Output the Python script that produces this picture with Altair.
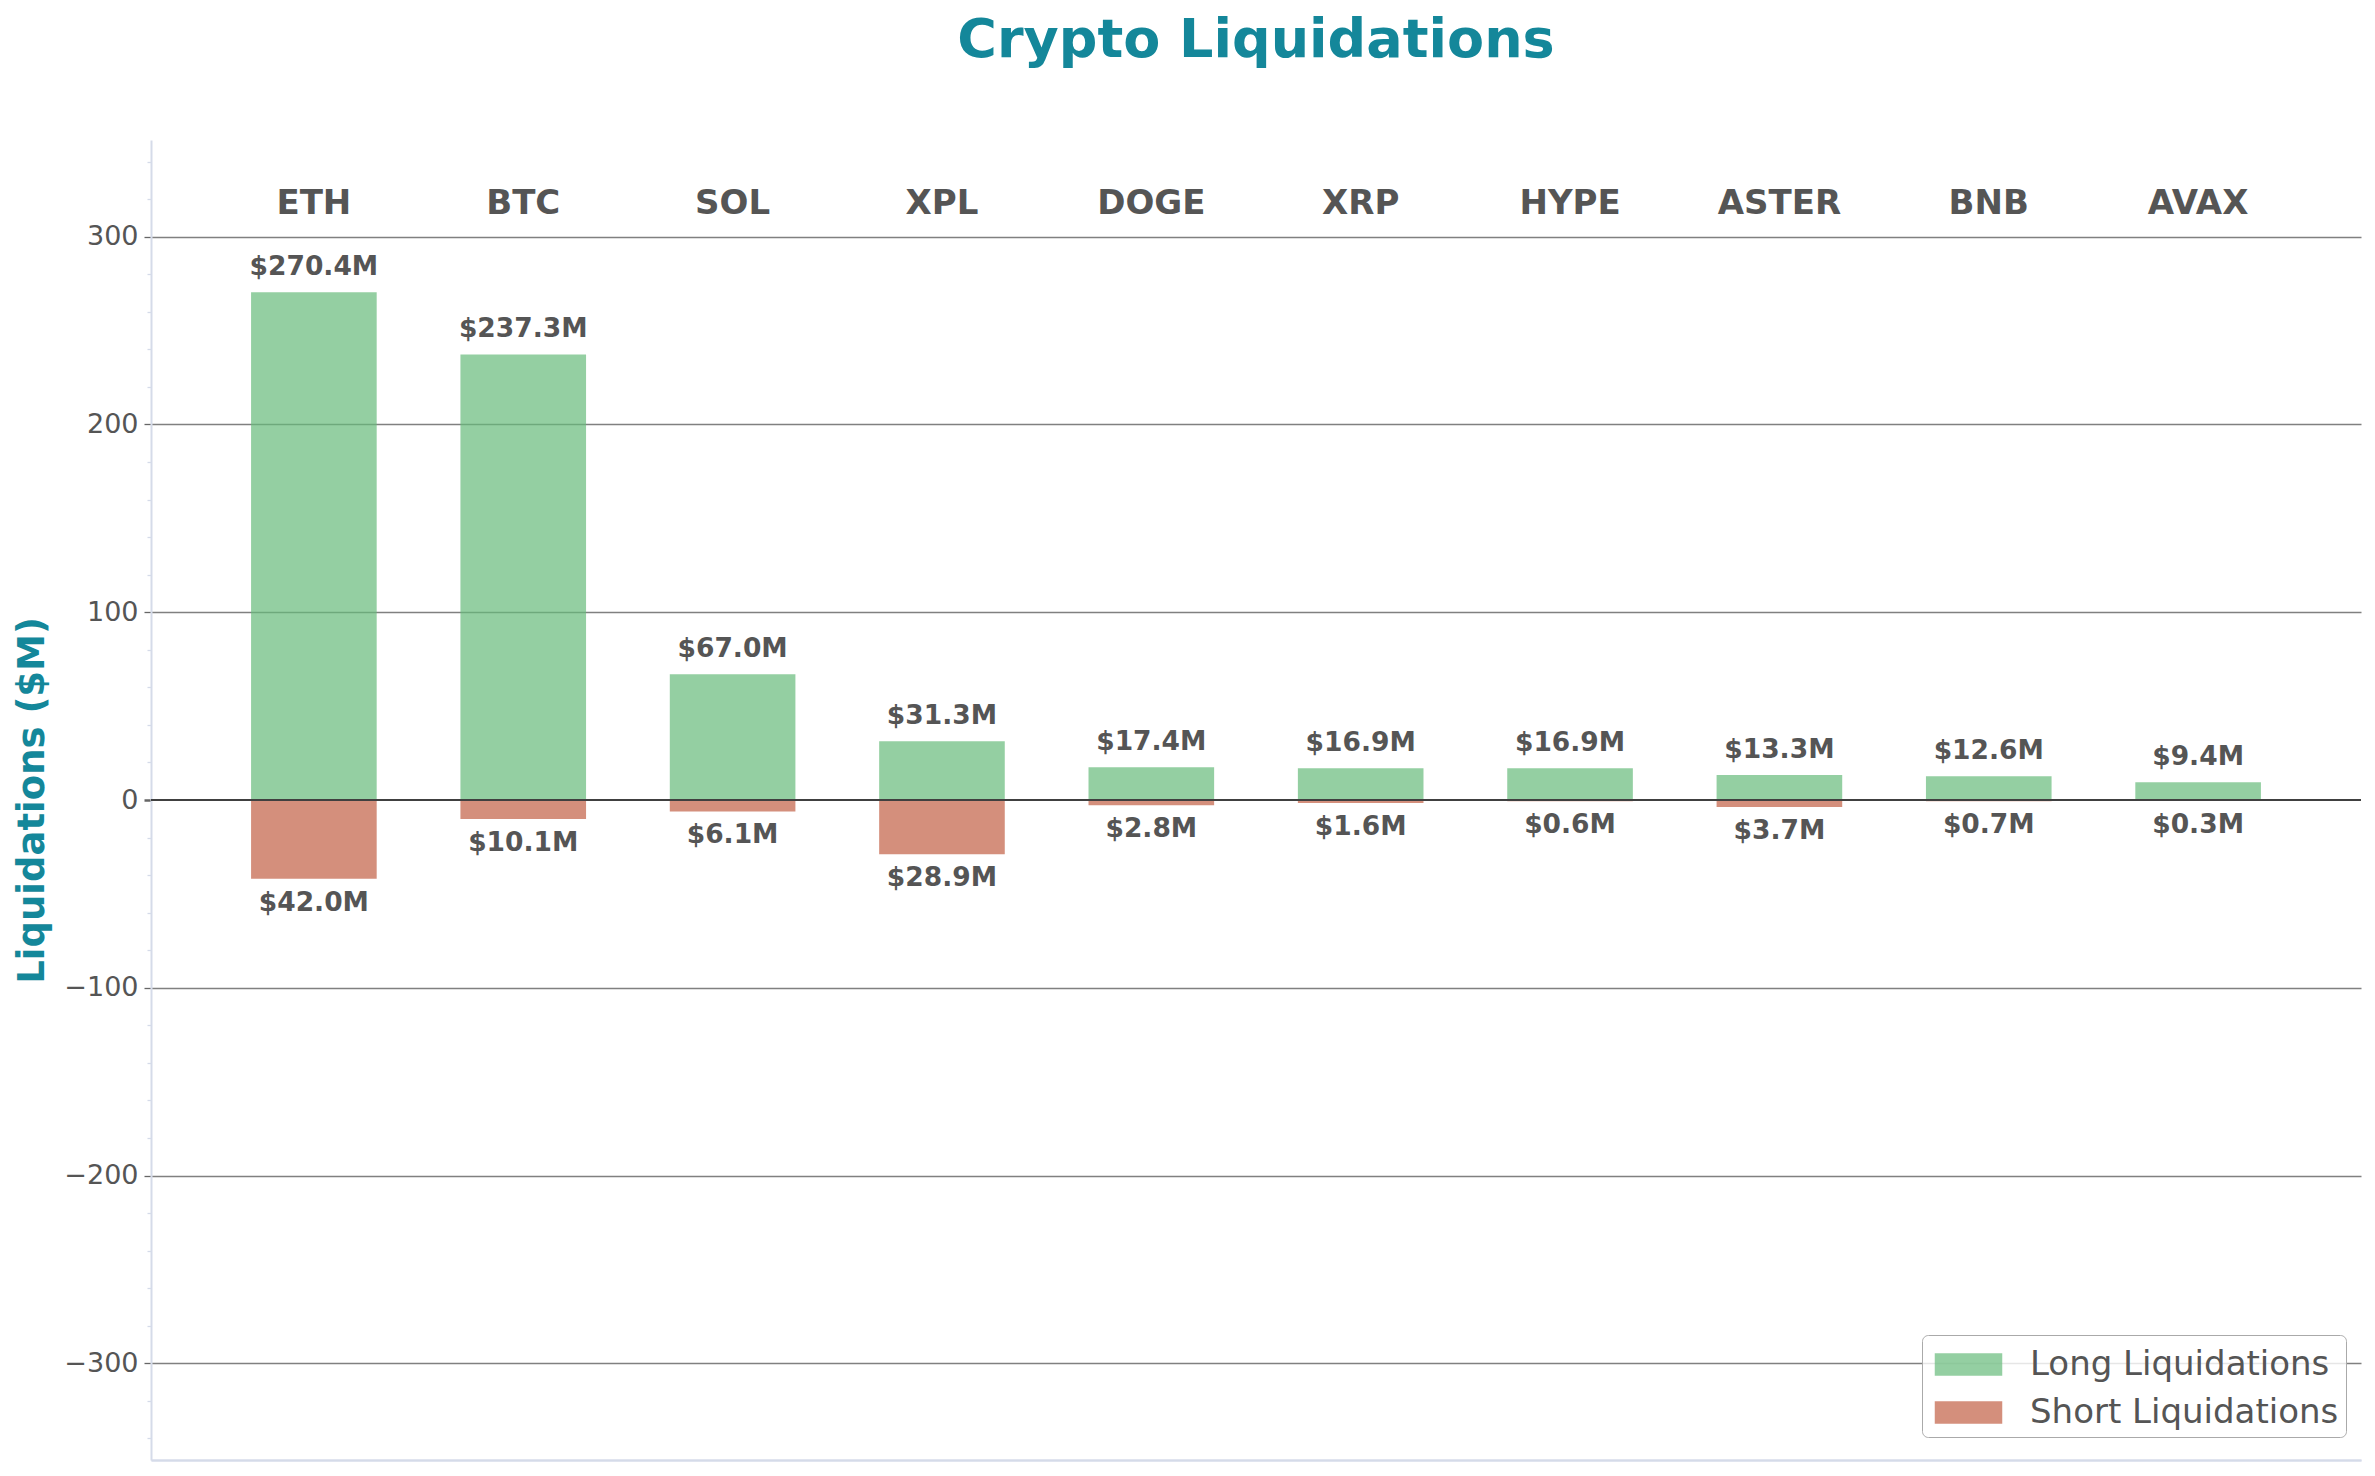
import altair as alt
import pandas as pd

FONT = "DejaVu Sans"
TEAL = "#14879a"
GREY_TEXT = "#555555"
SPINE = "#d5dbe9"

coins = ["ETH", "BTC", "SOL", "XPL", "DOGE", "XRP", "HYPE", "ASTER", "BNB", "AVAX"]
long_liq = [270.4, 237.3, 67.0, 31.3, 17.4, 16.9, 16.9, 13.3, 12.6, 9.4]
short_liq = [42.0, 10.1, 6.1, 28.9, 2.8, 1.6, 0.6, 3.7, 0.7, 0.3]
sides = ["Long Liquidations", "Short Liquidations"]
side_colors = ["#66ba7a", "#c26045"]
y_ticks = list(range(-340, 341, 20))

df = pd.DataFrame(
    {
        "coin": coins * 2,
        "side": [sides[0]] * len(coins) + [sides[1]] * len(coins),
        "value": long_liq + [-v for v in short_liq],
    }
)
df["label"] = df["value"].abs().map(lambda v: f"${v:.1f}M")

limit = max(long_liq) * 1.3
major = "datum.value % 100 === 0"

x_top = alt.X(
    "coin:N",
    sort=coins,
    title=None,
    scale=alt.Scale(paddingInner=0.4, paddingOuter=0.478),
    axis=alt.Axis(
        orient="top",
        offset=-73,
        domain=False,
        ticks=False,
        tickSize=0,
        labelPadding=0,
        labelAngle=0,
        labelBaseline="alphabetic",
        labelFont=FONT,
        labelFontSize=34,
        labelFontWeight="bold",
        labelColor=GREY_TEXT,
        grid=False,
    ),
)
x_bottom = alt.X(
    "coin:N",
    sort=coins,
    title=None,
    axis=alt.Axis(
        orient="bottom",
        labels=False,
        ticks=False,
        grid=False,
        domainColor=SPINE,
        domainWidth=2,
    ),
)

y_enc = alt.Y(
    "value:Q",
    scale=alt.Scale(domain=[-limit, limit], nice=False, zero=False),
    axis=alt.Axis(
        values=y_ticks,
        tickCount=len(y_ticks) + 10,
        title="Liquidations ($M)",
        titleFont=FONT,
        titleFontSize=37,
        titleFontWeight="bold",
        titleColor=TEAL,
        titleX=-108,
        titleY=660,
        titleAngle=270,
        titleAlign="center",
        titleBaseline="alphabetic",
        labelExpr=f"{major} ? datum.label : ''",
        labelOverlap=False,
        labelFont=FONT,
        labelFontSize=27,
        labelColor=GREY_TEXT,
        labelPadding=6,
        tickSize={"condition": {"test": major, "value": 7}, "value": 4},
        tickColor={"condition": {"test": major, "value": "#666666"}, "value": SPINE},
        tickWidth={"condition": {"test": "datum.value === 0", "value": 2.5}, "value": 1.3},
        domainColor=SPINE,
        domainWidth=2,
        grid=True,
        gridColor="#808080",
        gridWidth=1.3,
        gridOpacity={"condition": {"test": f"{major} && datum.value !== 0", "value": 1}, "value": 0},
    ),
)

bars = (
    alt.Chart(df)
    .mark_bar(opacity=0.7)
    .encode(
        x=x_top,
        y=y_enc,
        color=alt.Color(
            "side:N",
            scale=alt.Scale(domain=sides, range=side_colors),
            legend=alt.Legend(
                title=None,
                orient="none",
                legendX=1771,
                legendY=1195,
                fillColor="rgba(255,255,255,0.8)",
                strokeColor="#aaaaaa",
                cornerRadius=6,
                padding=7,
                rowPadding=8,
                labelFont=FONT,
                labelFontSize=34,
                labelColor=GREY_TEXT,
                labelLimit=600,
                labelOffset=39,
                symbolType="M-1.5,-0.5H1.5V0.5H-1.5Z",
                symbolSize=2025,
                symbolOffset=17,
                symbolOpacity=0.7,
                symbolStrokeWidth=0,
            ),
        ),
    )
)

zero_line = alt.Chart(df).mark_rule(color="#404040", strokeWidth=2).encode(y=alt.datum(0))

long_labels = (
    alt.Chart(df)
    .transform_filter("datum.value > 0")
    .mark_text(font=FONT, fontSize=26.5, fontWeight="bold", color=GREY_TEXT, baseline="alphabetic", dy=-17)
    .encode(x=x_bottom, y=y_enc, text="label:N")
)
short_labels = (
    alt.Chart(df)
    .transform_filter("datum.value < 0")
    .mark_text(font=FONT, fontSize=26.5, fontWeight="bold", color=GREY_TEXT, baseline="alphabetic", dy=32)
    .encode(x=x_bottom, y=y_enc, text="label:N")
)

chart = (
    alt.layer(bars, zero_line, long_labels, short_labels)
    .resolve_axis(x="independent")
    .properties(
        width=2210,
        height=1320,
        background="white",
        padding={"left": 143, "top": 132, "right": 4, "bottom": 8},
        autosize=alt.AutoSizeParams(type="none"),
        title=alt.TitleParams(
            "Crypto Liquidations",
            font=FONT,
            fontSize=54,
            fontWeight="bold",
            color=TEAL,
            anchor="middle",
            baseline="alphabetic",
            offset=29,
        ),
    )
    .configure_view(strokeWidth=0)
)

chart.save("out.html", embed_options={"renderer": "svg", "actions": False})
